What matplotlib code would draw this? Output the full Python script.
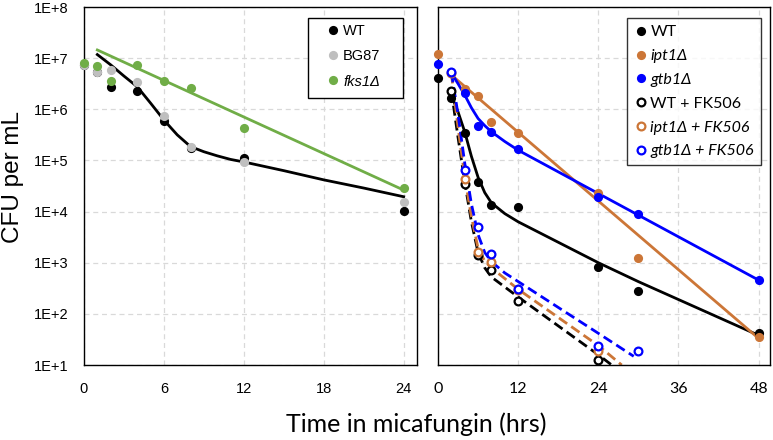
import numpy as np
import matplotlib.pyplot as plt
from matplotlib.patches import Rectangle
from matplotlib.ticker import FixedLocator, FuncFormatter, NullLocator

# all CFU values are log10(CFU per mL)

# ---- left panel: measured points
t_left    = [0, 1, 2, 4, 6, 8, 12, 24]
wt_left   = [6.86, 6.72, 6.43, 6.36, 5.78, 5.24, 5.04, 4.02]
bg87_left = [6.87, 6.73, 6.77, 6.54, 5.86, 5.27, 4.97, 4.18]
fks1_left = [6.91, 6.85, 6.55, 6.87, 6.56, 6.41, 5.64, 4.47]

# ---- left panel: fit curves
wt_fit_t   = [1, 2, 3, 4, 5, 6, 7, 8, 9, 10, 11, 12, 15, 18, 21, 24]
wt_fit     = [7.07, 6.87, 6.65, 6.44, 6.12, 5.79, 5.50, 5.27, 5.17, 5.09, 5.02, 4.97,
              4.80, 4.62, 4.46, 4.29]
fks1_fit_t = [1, 24]
fks1_fit   = [7.16, 4.42]

# ---- right panel: measured points
t_wt_r   = [0, 2, 4, 6, 8, 12, 24, 30, 48]
wt_r     = [6.61, 6.23, 5.54, 4.58, 4.13, 4.08, 2.92, 2.45, 1.63]
t_mut_r  = [0, 4, 6, 8, 12, 24, 30, 48]
ipt1_r   = [7.09, 6.39, 6.26, 5.76, 5.53, 4.37, 3.09, 1.55]
gtb1_r   = [6.89, 6.32, 5.67, 5.56, 5.22, 4.29, 3.95, 2.66]
t_fk     = [2, 4, 6, 8, 12, 24]
wt_fk    = [6.36, 4.54, 3.15, 2.86, 2.26, 1.09]
ipt1_fk  = [6.70, 4.63, 3.21, 3.02, 2.47, 1.27]
t_gfk    = [2, 4, 6, 8, 12, 24, 30]
gtb1_fk  = [6.72, 4.82, 3.70, 3.17, 2.49, 1.38, 1.27]

# ---- right panel: fit curves
wt_rfit_t   = [2, 3, 4, 5, 6, 7, 8, 10, 12, 24, 30, 48]
wt_rfit     = [6.27, 5.95, 5.56, 5.08, 4.67, 4.37, 4.17, 3.96, 3.80, 3.00, 2.63, 1.58]
gtb1_rfit_t = [2, 3, 4, 5, 6, 7, 8, 10, 12, 48]
gtb1_rfit   = [6.71, 6.50, 6.28, 6.03, 5.82, 5.68, 5.56, 5.37, 5.20, 2.66]
ipt1_rfit_t = [2, 48]
ipt1_rfit   = [6.67, 1.52]
wtfk_fit_t   = [2, 3, 4, 5, 6, 7, 8, 12, 24, 26]
wtfk_fit     = [6.36, 5.45, 4.58, 3.80, 3.20, 2.90, 2.72, 2.33, 1.20, 1.00]
iptfk_fit_t  = [2, 3, 4, 5, 6, 7, 8, 12, 24, 27.5]
iptfk_fit    = [6.70, 5.65, 4.68, 3.90, 3.28, 3.03, 2.90, 2.48, 1.38, 1.00]
gtbfk_fit_t  = [2, 3, 4, 5, 6, 7, 8, 10, 24, 29.3]
gtbfk_fit    = [6.72, 5.90, 4.95, 4.15, 3.55, 3.20, 3.02, 2.80, 1.62, 1.17]

GREEN  = '#70AD47'
GRAY   = '#BFBFBF'
ORANGE = '#CC7637'
BLUE   = '#0000FF'

def cfu(v):
    return 10 ** np.array(v, dtype=float)

fig = plt.figure(figsize=(7.73, 4.40), dpi=100)
axL = fig.add_axes([84/773, 75/440, 333/773, 358/440])
axR = fig.add_axes([438/773, 75/440, 332/773, 358/440])

def style(ax, xmax, xticks, font, tsize):
    ax.set_yscale('log')
    ax.set_ylim(10, 1e8)
    ax.set_xlim(0, xmax)
    ax.xaxis.set_major_locator(FixedLocator(xticks))
    ax.yaxis.set_major_locator(FixedLocator([10.0 ** k for k in range(1, 9)]))
    ax.yaxis.set_minor_locator(NullLocator())
    ax.grid(True, color='#D9D9D9', lw=0.9, ls=(0, (4, 3)))
    ax.set_axisbelow(True)
    for s in ax.spines.values():
        s.set_color('black')
        s.set_linewidth(1.0)
    ax.tick_params(length=0, pad=12)
    for lab in ax.get_xticklabels():
        lab.set_fontfamily(font)
        lab.set_fontsize(tsize)

style(axL, 25, [0, 6, 12, 18, 24], 'Liberation Sans', 10.5)
style(axR, 49.7, [0, 12, 24, 36, 48], 'Lato', 11.5)
axL.yaxis.set_major_formatter(FuncFormatter(lambda v, p: '1E+%d' % round(np.log10(v))))
for lab in axL.get_yticklabels():
    lab.set_fontfamily('Liberation Sans')
    lab.set_fontsize(10.5)
axL.tick_params(axis='y', pad=11.5)
axR.tick_params(axis='y', labelleft=False)

lw = 2.0
ms = 6.6

# left panel
axL.plot(wt_fit_t, cfu(wt_fit), color='black', lw=lw, zorder=2)
axL.plot(fks1_fit_t, cfu(fks1_fit), color=GREEN, lw=lw, zorder=2)
axL.plot(t_left, cfu(wt_left), 'o', color='black', ms=ms, mec='none', clip_on=False, zorder=3, label='WT')
axL.plot(t_left, cfu(bg87_left), 'o', color=GRAY, ms=ms, mec='none', clip_on=False, zorder=3, label='BG87')
axL.plot(t_left, cfu(fks1_left), 'o', color=GREEN, ms=ms, mec='none', clip_on=False, zorder=3, label='fks1Δ')

# legend box of the left panel is wider than its text, so draw the frame separately
box_x0, box_x1 = (308 - 84) / 333, (403 - 84) / 333
box_y0, box_y1 = (365 - 98) / 358, (365 - 18) / 358
axL.add_patch(Rectangle((box_x0, box_y0), box_x1 - box_x0, box_y1 - box_y0,
                        transform=axL.transAxes, facecolor='white', edgecolor='black',
                        lw=1.0, zorder=4.5, clip_on=False))
legL = axL.legend(loc='upper left', bbox_to_anchor=(box_x0, box_y1), borderaxespad=0,
                  prop={'family': 'Liberation Sans', 'size': 10.5}, frameon=False,
                  handlelength=2.6, handletextpad=-0.6, labelspacing=0.78, borderpad=0.4)
legL.set_zorder(5)
legL.get_texts()[2].set_fontstyle('italic')

# right panel
dash = (0, (3.6, 1.8))
axR.plot(wt_rfit_t, cfu(wt_rfit), color='black', lw=lw, zorder=2)
axR.plot(ipt1_rfit_t, cfu(ipt1_rfit), color=ORANGE, lw=lw, zorder=2)
axR.plot(gtb1_rfit_t, cfu(gtb1_rfit), color=BLUE, lw=lw, zorder=2)
axR.plot(wtfk_fit_t, cfu(wtfk_fit), color='black', lw=lw, ls=dash, zorder=2)
axR.plot(iptfk_fit_t, cfu(iptfk_fit), color=ORANGE, lw=lw, ls=dash, zorder=2)
axR.plot(gtbfk_fit_t, cfu(gtbfk_fit), color=BLUE, lw=lw, ls=dash, zorder=2)

axR.plot(t_wt_r, cfu(wt_r), 'o', color='black', ms=ms, mec='none', clip_on=False, zorder=3, label='WT')
axR.plot(t_mut_r, cfu(ipt1_r), 'o', color=ORANGE, ms=ms, mec='none', clip_on=False, zorder=3, label='ipt1Δ')
axR.plot(t_mut_r, cfu(gtb1_r), 'o', color=BLUE, ms=ms, mec='none', clip_on=False, zorder=3, label='gtb1Δ')
axR.plot(t_fk, cfu(wt_fk), 'o', mfc='white', mec='black', mew=1.6, ms=ms - 1, zorder=4, label='WT + FK506')
axR.plot(t_fk, cfu(ipt1_fk), 'o', mfc='white', mec=ORANGE, mew=1.6, ms=ms - 1, zorder=4, label='ipt1Δ + FK506')
axR.plot(t_gfk, cfu(gtb1_fk), 'o', mfc='white', mec=BLUE, mew=1.6, ms=ms - 1, zorder=4, label='gtb1Δ + FK506')

legR = axR.legend(loc='upper right', bbox_to_anchor=(0.973, 0.969), borderaxespad=0,
                  prop={'family': 'Lato', 'size': 11.5}, frameon=True, fancybox=False,
                  edgecolor='black', handlelength=0.8, handletextpad=0.2, labelspacing=0.6,
                  borderpad=0.45)
legR.get_frame().set_linewidth(1.0)
for i in (1, 2, 4, 5):
    legR.get_texts()[i].set_fontstyle('italic')

fig.text(13/773, (440 - 177)/440, 'CFU per mL', rotation=90, ha='center', va='center',
         family='Liberation Sans', fontsize=17.5)
fig.text(416/773, (440 - 424)/440, 'Time in micafungin (hrs)', ha='center', va='center',
         family='Lato', fontsize=18)

fig.savefig('out.png', dpi=100)
